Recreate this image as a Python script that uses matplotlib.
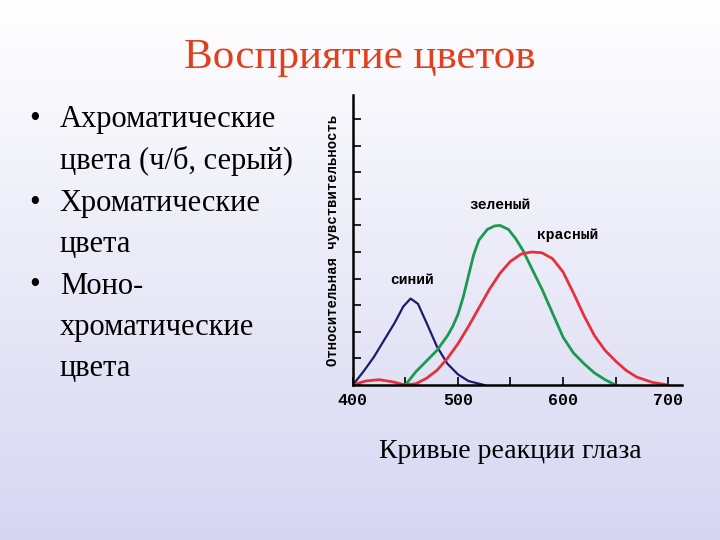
import numpy as np
import matplotlib
matplotlib.use("Agg")
import matplotlib.pyplot as plt
from matplotlib.colors import LinearSegmentedColormap

blue_x = [400, 410, 420, 430, 440, 448, 455, 462, 470, 480, 490, 500, 510, 525]
blue_y = [0, 0.5, 1.05, 1.7, 2.35, 2.95, 3.25, 3.05, 2.35, 1.45, 0.8, 0.4, 0.15, 0]
green_x = [450, 460, 470, 480, 490, 495, 500, 505, 510, 515, 520, 528, 535, 540, 548, 555, 562, 570, 580, 590, 600, 610, 620, 630, 640, 650]
green_y = [0, 0.5, 0.9, 1.3, 1.85, 2.2, 2.65, 3.3, 4.1, 4.9, 5.45, 5.85, 5.98, 6.0, 5.85, 5.5, 5.05, 4.4, 3.6, 2.7, 1.8, 1.2, 0.8, 0.45, 0.2, 0]
red_x = [400, 412, 425, 438, 450, 460, 470, 480, 490, 500, 510, 520, 530, 540, 550, 560, 570, 580, 590, 600, 610, 620, 630, 640, 650, 660, 670, 685, 700]
red_y = [0, 0.15, 0.2, 0.12, 0, 0.05, 0.25, 0.55, 1.0, 1.55, 2.2, 2.9, 3.6, 4.2, 4.65, 4.92, 5.0, 4.97, 4.75, 4.25, 3.45, 2.6, 1.85, 1.3, 0.9, 0.55, 0.3, 0.1, 0]
x_ticks = [400, 450, 500, 550, 600, 650, 700]
x_labels = ["400", "", "500", "", "600", "", "700"]
y_ticks = list(range(0, 11))
lines = ["Ахроматические", "цвета (ч/б, серый)", "Хроматические", "цвета", "Моно-", "хроматические", "цвета"]
bullet_rows = [0, 2, 4]

fig = plt.figure(figsize=(7.2, 5.4), dpi=100)
bg = fig.add_axes([0, 0, 1, 1])
grad = np.linspace(0, 1, 256).reshape(-1, 1)
cm = LinearSegmentedColormap.from_list("g", ["#ffffff", "#d6d6f2"])
bg.imshow(grad, aspect="auto", cmap=cm, extent=[0, 1, 0, 1], origin="upper")
bg.axis("off")

fig.text(0.5, 0.893, "Восприятие цветов", color="#e0401c", fontsize=31,
         family="Liberation Serif", ha="center", va="center")
for i, t in enumerate(lines):
    y = 1 - (120 + 41.5 * i) / 540
    if i in bullet_rows:
        fig.text(0.04, y, "•", fontsize=22, family="Liberation Serif", va="center")
    fig.text(0.083, y, t, fontsize=22, family="Liberation Serif", va="center")
fig.text(0.709, 0.163, "Кривые реакции глаза", fontsize=20, family="Liberation Serif", ha="center", va="center")

ax = fig.add_axes([0.49, 0.287, 0.457, 0.537])
ax.patch.set_alpha(0)
ax.plot(blue_x, blue_y, color="#1c1c6e", lw=1.6)
ax.plot(green_x, green_y, color="#1a9a50", lw=2)
ax.plot(red_x, red_y, color="#e8303c", lw=2)
ax.set_xlim(400, 713)
ax.set_ylim(0, 10.9)
for s in ["top", "right"]:
    ax.spines[s].set_visible(False)
for s in ["left", "bottom"]:
    ax.spines[s].set_linewidth(1.8)
ax.set_xticks(x_ticks)
ax.set_xticklabels(x_labels, family="Liberation Mono", fontweight="bold", fontsize=12)
ax.set_yticks(y_ticks)
ax.set_yticklabels([])
ax.tick_params(axis="both", direction="in", length=6, width=1.2)
ax.tick_params(axis="x", pad=6)
ax.set_ylabel("Относительная чувствительность", family="Liberation Mono", fontweight="bold", fontsize=10, labelpad=6)
lab = dict(family="Liberation Mono", fontweight="bold", fontsize=10.5, ha="center")
ax.text(456, 3.8, "синий", **lab)
ax.text(540, 6.6, "зеленый", **lab)
ax.text(604, 5.5, "красный", **lab)
fig.savefig("out.png", dpi=100)
